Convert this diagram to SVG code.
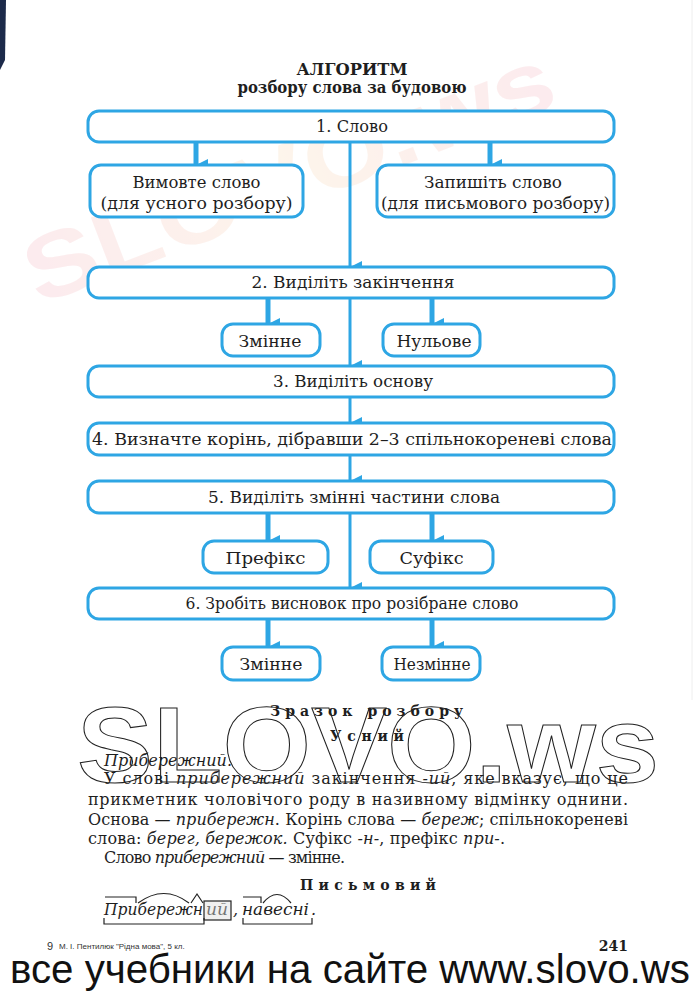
<svg xmlns="http://www.w3.org/2000/svg" width="700" height="995" viewBox="0 0 700 995">
<defs>
<style>
.box{fill:#ffffff;stroke:#2ea6e4;stroke-width:3}
.t{font-family:"DejaVu Serif","Liberation Serif",serif;font-size:17px;fill:#1e1e1e;text-anchor:middle}
.ttl{font-family:"DejaVu Serif","Liberation Serif",serif;font-size:17px;font-weight:bold;fill:#1e1e1e;text-anchor:middle}
.p{font-family:"DejaVu Serif","Liberation Serif",serif;font-size:16px;fill:#1e1e1e}
.i{font-style:italic}
.sp{font-family:"DejaVu Serif","Liberation Serif",serif;font-size:14px;font-weight:bold;fill:#1e1e1e}
.ln{stroke:#2ea6e4;stroke-width:3;fill:none}
.stub{stroke:#2ea6e4;stroke-width:5;fill:none}
.mk{stroke:#222;stroke-width:1.2;fill:none}
</style>
<marker id="ah" viewBox="0 0 12 12" refX="6" refY="12" markerWidth="12" markerHeight="12" orient="auto" markerUnits="userSpaceOnUse">
<path d="M0,0 L12,0 L6,12 Z" fill="#2ea6e4"/>
</marker>
<linearGradient id="wm" x1="0" y1="0" x2="1" y2="0">
<stop offset="0" stop-color="#f6b8c4"/>
<stop offset="0.5" stop-color="#f9dcb8"/>
<stop offset="1" stop-color="#f6b8c4"/>
</linearGradient>
</defs>
<rect width="700" height="995" fill="#ffffff"/>
<path d="M0,0 L6,0 L5,60 L0,70 Z" fill="#1c2a4a"/>
<line x1="692" y1="0" x2="692" y2="700" stroke="#eeeeee" stroke-width="1"/>

<text x="300" y="205" transform="rotate(-21 300 205)" font-family="'Liberation Sans',Arial,sans-serif" font-size="92" font-weight="bold" fill="url(#wm)" opacity="0.28" text-anchor="middle" textLength="560" lengthAdjust="spacingAndGlyphs">SLOVO.ws</text>

<text x="352" y="75" class="ttl" textLength="111" lengthAdjust="spacingAndGlyphs">АЛГОРИТМ</text>
<text x="352" y="93" class="ttl" font-size="15.5" textLength="229" lengthAdjust="spacingAndGlyphs">розбору слова за будовою</text>

<g id="connectors">
<line class="stub" x1="196" y1="143" x2="196" y2="165" marker-end="url(#ah)"/>
<line class="stub" x1="490" y1="143" x2="490" y2="165" marker-end="url(#ah)"/>
<line class="ln" x1="350" y1="143" x2="350" y2="267" marker-end="url(#ah)"/>
<line class="stub" x1="268" y1="299" x2="268" y2="324" marker-end="url(#ah)"/>
<line class="stub" x1="432" y1="299" x2="432" y2="324" marker-end="url(#ah)"/>
<line class="ln" x1="350" y1="299" x2="350" y2="366" marker-end="url(#ah)"/>
<line class="ln" x1="350" y1="398" x2="350" y2="423" marker-end="url(#ah)"/>
<line class="ln" x1="350" y1="456" x2="350" y2="481" marker-end="url(#ah)"/>
<line class="stub" x1="268" y1="514" x2="268" y2="541" marker-end="url(#ah)"/>
<line class="stub" x1="432" y1="514" x2="432" y2="541" marker-end="url(#ah)"/>
<line class="ln" x1="350" y1="514" x2="350" y2="588" marker-end="url(#ah)"/>
<line class="stub" x1="268" y1="620" x2="268" y2="647" marker-end="url(#ah)"/>
<line class="stub" x1="432" y1="620" x2="432" y2="647" marker-end="url(#ah)"/>
</g>

<g id="n1"><rect class="box" x="88" y="111" width="526" height="31" rx="11"/><text class="t" x="352" y="132" textLength="72" lengthAdjust="spacingAndGlyphs">1. Слово</text></g>
<g id="n1a"><rect class="box" x="90" y="165" width="213" height="52" rx="11"/><text class="t" x="196.5" y="188" textLength="128" lengthAdjust="spacingAndGlyphs">Вимовте слово</text><text class="t" x="196.5" y="209" textLength="192" lengthAdjust="spacingAndGlyphs">(для усного розбору)</text></g>
<g id="n1b"><rect class="box" x="377" y="165" width="237" height="52" rx="11"/><text class="t" x="493" y="188" textLength="138" lengthAdjust="spacingAndGlyphs">Запишіть слово</text><text class="t" x="495.5" y="209" textLength="229" lengthAdjust="spacingAndGlyphs">(для письмового розбору)</text></g>
<g id="n2"><rect class="box" x="88" y="267" width="526" height="31" rx="11"/><text class="t" x="353" y="288" textLength="203" lengthAdjust="spacingAndGlyphs">2. Виділіть закінчення</text></g>
<g id="n2a"><rect class="box" x="222" y="324" width="98" height="32" rx="11"/><text class="t" x="270" y="347" textLength="63" lengthAdjust="spacingAndGlyphs">Змінне</text></g>
<g id="n2b"><rect class="box" x="383" y="324" width="97" height="32" rx="11"/><text class="t" x="434" y="347" textLength="75" lengthAdjust="spacingAndGlyphs">Нульове</text></g>
<g id="n3"><rect class="box" x="88" y="366" width="526" height="31" rx="11"/><text class="t" x="353" y="387" textLength="160" lengthAdjust="spacingAndGlyphs">3. Виділіть основу</text></g>
<g id="n4"><rect class="box" x="88" y="423" width="526" height="32" rx="11"/><text class="t" x="352" y="445" textLength="520" lengthAdjust="spacingAndGlyphs">4. Визначте корінь, дібравши 2–3 спільнокореневі слова</text></g>
<g id="n5"><rect class="box" x="88" y="481" width="526" height="32" rx="11"/><text class="t" x="354" y="503" textLength="292" lengthAdjust="spacingAndGlyphs">5. Виділіть змінні частини слова</text></g>
<g id="n5a"><rect class="box" x="203" y="541" width="125" height="32" rx="11"/><text class="t" x="265.5" y="564" textLength="80" lengthAdjust="spacingAndGlyphs">Префікс</text></g>
<g id="n5b"><rect class="box" x="370" y="541" width="123" height="32" rx="11"/><text class="t" x="431.5" y="564" textLength="64" lengthAdjust="spacingAndGlyphs">Суфікс</text></g>
<g id="n6"><rect class="box" x="88" y="588" width="526" height="31" rx="11"/><text class="t" x="352" y="609" textLength="333" lengthAdjust="spacingAndGlyphs">6. Зробіть висновок про розібране слово</text></g>
<g id="n6a"><rect class="box" x="222" y="647" width="98" height="33" rx="11"/><text class="t" x="271" y="670" textLength="63" lengthAdjust="spacingAndGlyphs">Змінне</text></g>
<g id="n6b"><rect class="box" x="382" y="647" width="98" height="33" rx="11"/><text class="t" x="432" y="670" textLength="77" lengthAdjust="spacingAndGlyphs">Незмінне</text></g>

<text class="sp" x="270" y="716" textLength="193" lengthAdjust="spacing">Зразок розбору</text>
<text class="sp" x="330" y="741" textLength="74" lengthAdjust="spacing">Усний</text>

<text class="p i" x="104" y="766" textLength="128" lengthAdjust="spacingAndGlyphs">Прибережний.</text>
<text class="p" x="104" y="784" textLength="524" lengthAdjust="spacing">У слові <tspan class="i">прибережний</tspan> закінчення <tspan class="i">-ий</tspan>, яке вказує, що це</text>
<text class="p" x="88" y="805" textLength="540" lengthAdjust="spacing">прикметник чоловічого роду в називному відмінку однини.</text>
<text class="p" x="88" y="825" textLength="540" lengthAdjust="spacing">Основа — <tspan class="i">прибережн</tspan>. Корінь слова — <tspan class="i">береж</tspan>; спільнокореневі</text>
<text class="p" x="88" y="844" textLength="417" lengthAdjust="spacing">слова: <tspan class="i">берег, бережок.</tspan>  Суфікс <tspan class="i">-н-</tspan>, префікс <tspan class="i">при-</tspan>.</text>
<text class="p" x="104" y="863" textLength="241" lengthAdjust="spacing">Слово <tspan class="i">прибережний</tspan> — змінне.</text>

<text x="368" y="782" font-family="'Liberation Sans',Arial,sans-serif" font-size="108" font-weight="bold" fill="none" stroke="#222" stroke-width="1" text-anchor="middle" textLength="582" lengthAdjust="spacingAndGlyphs">SLOVO.ws</text>

<text class="sp" x="300" y="890" textLength="136" lengthAdjust="spacing">Письмовий</text>

<g id="written">
<text class="p i" x="104" y="915" textLength="99" lengthAdjust="spacingAndGlyphs">Прибережн</text>
<text class="p i" x="206" y="915" textLength="22" lengthAdjust="spacingAndGlyphs">ий</text>
<text class="p i" x="233" y="915">,</text>
<text class="p i" x="242" y="915" textLength="67" lengthAdjust="spacingAndGlyphs">навесні</text>
<text class="p i" x="311" y="915">.</text>
<path class="mk" d="M105,897 H136 V903"/>
<path class="mk" d="M138,903 Q164,884 189,903"/>
<path class="mk" d="M191,903 L197,894 L203,903"/>
<rect x="204" y="901" width="27" height="19" fill="#dddddd" fill-opacity="0.45" stroke="#222" stroke-width="1.2"/>
<path class="mk" d="M104,918 V924 H204 V918"/>
<path class="mk" d="M243,897 H261 V903"/>
<path class="mk" d="M263,903 Q277,886 291,903"/>
<path class="mk" d="M243,918 V924 H312 V918"/>
</g>

<text x="47" y="950" font-family="'Liberation Sans',Arial,sans-serif" font-size="11" fill="#333">9</text>
<text x="59" y="949" font-family="'Liberation Sans',Arial,sans-serif" font-size="8" fill="#333">М. І. Пентилюк "Рідна мова", 5 кл.</text>
<text x="628" y="951" font-family="'DejaVu Serif','Liberation Serif',serif" font-size="14" font-weight="bold" fill="#1e1e1e" text-anchor="end">241</text>

<text x="10" y="983" font-family="'Liberation Sans',Arial,sans-serif" font-size="40" fill="#111" textLength="680" lengthAdjust="spacingAndGlyphs">все учебники на сайте www.slovo.ws</text>
</svg>
